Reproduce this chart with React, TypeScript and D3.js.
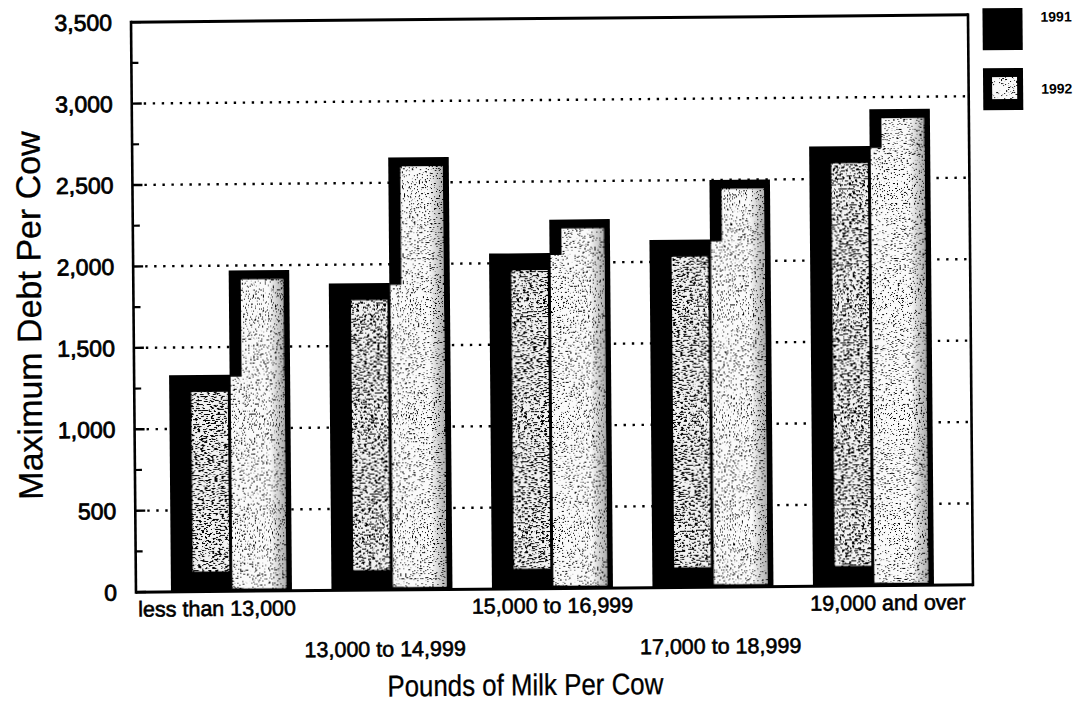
import React from 'react';
import * as d3 from 'd3';

const categories = ['less than 13,000', '13,000 to 14,999', '15,000 to 16,999', '17,000 to 18,999', '19,000 and over'];
const seriesNames = ['1991', '1992'];
const values1991 = [1330, 1885, 2060, 2135, 2700];
const values1992 = [1970, 2655, 2265, 2500, 2925];
const yTicks = [0, 500, 1000, 1500, 2000, 2500, 3000, 3500];
const yMinorTicks = [250, 750, 1250, 1750, 2250, 2750, 3250];
const gridValues = [500, 1000, 1500, 2000, 2500, 3000];
const yTitle = 'Maximum Debt Per Cow';
const xTitle = 'Pounds of Milk Per Cow';

const W = 1082;
const H = 704;
const L = 133.5;
const R = 970.5;
const T = 18.5;
const B = 588.5;
const FONT = 'Liberation Sans, Arial, Helvetica, sans-serif';

function Speckle({ id, freq, seed, k, c, tint }: { id: string; freq: string; seed: number; k: number; c: number; tint: string }) {
  return (
    <filter id={id} x="0" y="0" width="1" height="1" colorInterpolationFilters="sRGB">
      <feTurbulence type="fractalNoise" baseFrequency={freq} numOctaves={2} seed={seed} result="n" />
      <feColorMatrix in="n" type="matrix" values={`0 0 0 0 0  0 0 0 0 0  0 0 0 0 0  ${-k} 0 0 0 ${c}`} result="d" />
      <feFlood floodColor={tint} result="w" />
      <feMerge result="m">
        <feMergeNode in="w" />
        <feMergeNode in="d" />
      </feMerge>
      <feComposite in="m" in2="SourceGraphic" operator="in" />
    </filter>
  );
}

export default function App() {
  const y = d3.scaleLinear().domain([0, 3500]).range([B, T]);
  const x0 = d3.scaleBand<string>().domain(categories).range([L, R]).paddingInner(0.246).paddingOuter(0.2304).align(0.473);
  const bw = x0.bandwidth();
  const x1 = d3.scaleBand<string>().domain(seriesNames).range([0, bw]);
  const sw = x1.bandwidth();
  const fmt = d3.format(',');
  const midX = (L + R) / 2;

  return (
    <svg width={W} height={H} style={{ position: 'absolute', left: 0, top: 0, background: '#fff' }} xmlns="http://www.w3.org/2000/svg">
      <defs>
        <Speckle id="spk92" freq="0.6 0.8" seed={4} k={20} c={7.5} tint="#fafafa" />
        <Speckle id="spk91" freq="0.3 0.8" seed={9} k={20} c={9.0} tint="#f2f2f2" />
        <linearGradient id="edge92" x1="0" x2="1" y1="0" y2="0">
          <stop offset="0" stopColor="#000" stopOpacity={0} />
          <stop offset="0.72" stopColor="#000" stopOpacity={0} />
          <stop offset="1" stopColor="#000" stopOpacity={0.3} />
        </linearGradient>
      </defs>
      <rect x={0} y={0} width={W} height={H} fill="#fff" />
      <g transform="rotate(-0.5 552 305)">
        {gridValues.map((v) => (
          <line key={'g' + v} x1={L + 12} x2={R - 2} y1={y(v)} y2={y(v)} stroke="#000" strokeWidth={2.4} strokeDasharray="2.4 6.6" />
        ))}

        {categories.map((c, i) => {
          const bx = x0(c) as number;
          const xa = bx + (x1('1991') as number);
          const xb = bx + (x1('1992') as number);
          const ya = y(values1991[i]);
          const yb = y(values1992[i]);
          return (
            <g key={c}>
              <rect x={xa} y={ya} width={sw + 0.5} height={B - ya} fill="#000" />
              <rect x={xa + 22} y={ya + 17} width={sw - 24} height={Math.max(0, B - ya - 37)} fill="#000" filter="url(#spk91)" />
              <rect x={xb} y={yb} width={sw} height={B - yb} fill="#000" />
              <rect x={xb + 12} y={yb + 9} width={sw - 18} height={B - yb - 12} fill="#000" filter="url(#spk92)" />
              <rect x={xb + 1} y={ya + 2} width={sw - 7} height={B - ya - 5} fill="#000" filter="url(#spk92)" />
              <rect x={xb + 1} y={yb + 9} width={sw - 7} height={B - yb - 12} fill="url(#edge92)" />
            </g>
          );
        })}

        <line x1={L} x2={R} y1={T} y2={T} stroke="#000" strokeWidth={3} />
        <line x1={L} x2={R} y1={B} y2={B} stroke="#000" strokeWidth={3} />
        <line x1={L} x2={L} y1={T - 1.5} y2={B + 1.5} stroke="#000" strokeWidth={2.6} />
        <line x1={R} x2={R} y1={T - 1.5} y2={B + 1.5} stroke="#000" strokeWidth={2.6} />

        {yTicks.map((v) => (
          <line key={'t' + v} x1={L} x2={L + 10} y1={y(v)} y2={y(v)} stroke="#000" strokeWidth={2.4} />
        ))}
        {yMinorTicks.map((v) => (
          <line key={'m' + v} x1={L} x2={L + 7} y1={y(v)} y2={y(v)} stroke="#000" strokeWidth={2.2} />
        ))}
        {yTicks.map((v) => (
          <text key={'l' + v} x={L - 19} y={y(v)} dy="0.36em" textAnchor="end" fontFamily={FONT} fontSize={23} fill="#000" stroke="#000" strokeWidth={0.8}>
            {fmt(v)}
          </text>
        ))}

        {categories.map((c, i) => {
          const cx = (x0(c) as number) + bw / 2;
          const lx = midX + (cx - midX) * 1.045;
          return (
            <text key={'c' + c} x={lx} y={i % 2 === 0 ? 613 : 655} textAnchor="middle" fontFamily={FONT} fontSize={21.5} fill="#000" stroke="#000" strokeWidth={0.6}>
              {c}
            </text>
          );
        })}

        <text x={522} y={695} textAnchor="middle" fontFamily={FONT} fontSize={30} textLength={276} lengthAdjust="spacingAndGlyphs" fill="#000" stroke="#000" strokeWidth={0.3}>
          {xTitle}
        </text>
        <text transform="translate(41 311) rotate(-90)" textAnchor="middle" fontFamily={FONT} fontSize={34} fill="#000" stroke="#000" strokeWidth={0.3}>
          {yTitle}
        </text>

        <rect x={985} y={12} width={40} height={42} fill="#000" />
        <text x={1043} y={26} fontFamily={FONT} fontSize={14} fontWeight="bold" fill="#000">{seriesNames[0]}</text>
        <rect x={985} y={72} width={40} height={42} fill="#000" />
        <rect x={994} y={81} width={25} height={22} fill="#000" filter="url(#spk92)" />
        <text x={1043} y={98} fontFamily={FONT} fontSize={14} fontWeight="bold" fill="#000">{seriesNames[1]}</text>
      </g>
    </svg>
  );
}
